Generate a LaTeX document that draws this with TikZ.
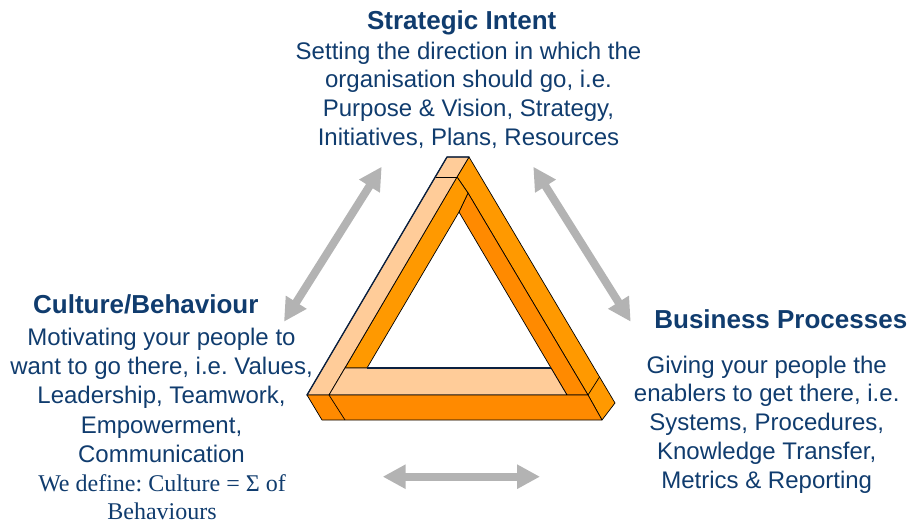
\documentclass[tikz,border=0pt]{standalone}
\usepackage{fontspec}
\setmainfont{Liberation Sans}
\newfontfamily\timesfont{Liberation Serif}
\usetikzlibrary{arrows.meta}
\definecolor{peach}{HTML}{FFCC99}
\definecolor{orangeA}{HTML}{FF9900}
\definecolor{orangeB}{HTML}{FF8A00}
\definecolor{navytext}{RGB}{16,60,110}
\definecolor{edgenavy}{HTML}{0A2040}
\definecolor{arrowgray}{HTML}{B3B3B3}
\frenchspacing
\begin{document}
\begin{tikzpicture}[x=1pt,y=-1pt,
  face/.style={draw=black,line width=0.7pt,line join=round},
  garrow/.style={draw=arrowgray,line width=8pt,
     {Triangle[width=23pt,length=23pt]}-{Triangle[width=23pt,length=23pt]}},
  head/.style={anchor=base,inner sep=0pt,text=navytext,font=\fontsize{26}{30}\selectfont\bfseries},
  body/.style={anchor=base,inner sep=0pt,text=navytext,font=\fontsize{24}{28.8}\selectfont},
  sbody/.style={anchor=base,inner sep=0pt,text=navytext,font=\fontsize{24}{28.8}\selectfont\timesfont}]
\useasboundingbox (0,0) rectangle (912,524);
% triangle vertices
\coordinate (A) at (447,157);
\coordinate (B) at (469,157);
\coordinate (Cl) at (435.5,177);
\coordinate (Cr) at (457,177);
\coordinate (D) at (468,193);
\coordinate (Ia) at (459,212);
\coordinate (L) at (307,395);
\coordinate (Lr) at (329,395);
\coordinate (Li) at (345,368);
\coordinate (Iil) at (367,368);
\coordinate (Iir) at (551,368);
\coordinate (Ri) at (567,395);
\coordinate (Rd) at (588,395);
\coordinate (Rc) at (599.5,377);
\coordinate (Ro) at (615,403);
\coordinate (Rb) at (602,420);
\coordinate (Lb) at (322,420);
\coordinate (Lm) at (345,420);
% faces
\filldraw[face,fill=orangeA] (B) -- (Ro) -- (Rb) -- (Rd) -- (D) -- (Cr) -- cycle;
\filldraw[face,fill=orangeB] (D) -- (Rd) -- (Ri) -- (Ia) -- cycle;
\filldraw[face,fill=orangeA] (Cr) -- (D) -- (Ia) -- (Iil) -- (Li) -- cycle;
\filldraw[face,fill=peach] (A) -- (B) -- (Cr) -- (Lr) -- (L) -- cycle;
\filldraw[face,fill=peach] (Li) -- (Iir) -- (Ri) -- (Lr) -- cycle;
\filldraw[face,fill=orangeB] (L) -- (Rd) -- (Rb) -- (Lb) -- cycle;
\draw[face] (Cl) -- (Cr);
\draw[face] (Lr) -- (Lm);
\draw[face] (Rc) -- (Rd);
\draw[edgenavy,line width=1.3pt,line cap=round] (L) -- (A) -- (B);
\draw[edgenavy,line width=1.1pt] (Iil) -- (Iir);
% arrows
\coordinate (la1) at (381.7,166.7);
\coordinate (la2) at (284,321.7);
\coordinate (ra1) at (533.3,166.7);
\coordinate (ra2) at (630.7,321.7);
\coordinate (ba1) at (382.7,476.7);
\coordinate (ba2) at (540,476.7);
\draw[garrow] (la1) -- (la2);
\draw[garrow] (ra1) -- (ra2);
\draw[garrow] (ba1) -- (ba2);
% top text
\node[head] (sth) at (461.7,29.3) {Strategic Intent};
\node[body] (st1) at (468.5,59.3) {Setting the direction in which the};
\node[body] (st2) at (468.5,88) {organisation should go, i.e.};
\node[body] (st3) at (468.5,116.5) {Purpose \& Vision, Strategy,};
\node[body] (st4) at (468.5,145) {Initiatives, Plans, Resources};
% left text
\node[head] (cuh) at (145.8,313.3) {Culture/Behaviour};
\node[body] (cu1) at (161.5,345) {Motivating your people to};
\node[body] (cu2) at (161.5,374) {want to go there, i.e. Values,};
\node[body] (cu3) at (161.5,403.3) {Leadership, Teamwork,};
\node[body] (cu4) at (161.5,433.3) {Empowerment,};
\node[body] (cu5) at (161.5,462.3) {Communication};
\node[sbody] (cu6) at (162,491.7) {We define: Culture = Σ of};
\node[sbody] (cu7) at (162,519.3) {Behaviours};
% right text
\node[head] (bph) at (780.8,328.3) {Business Processes};
\node[body] (bp1) at (766.7,373.3) {Giving your people the};
\node[body] (bp2) at (766.7,401.7) {enablers to get there, i.e.};
\node[body] (bp3) at (766.7,430.7) {Systems, Procedures,};
\node[body] (bp4) at (766.7,459.3) {Knowledge Transfer,};
\node[body] (bp5) at (766.7,488.3) {Metrics \& Reporting};
\end{tikzpicture}
\end{document}
